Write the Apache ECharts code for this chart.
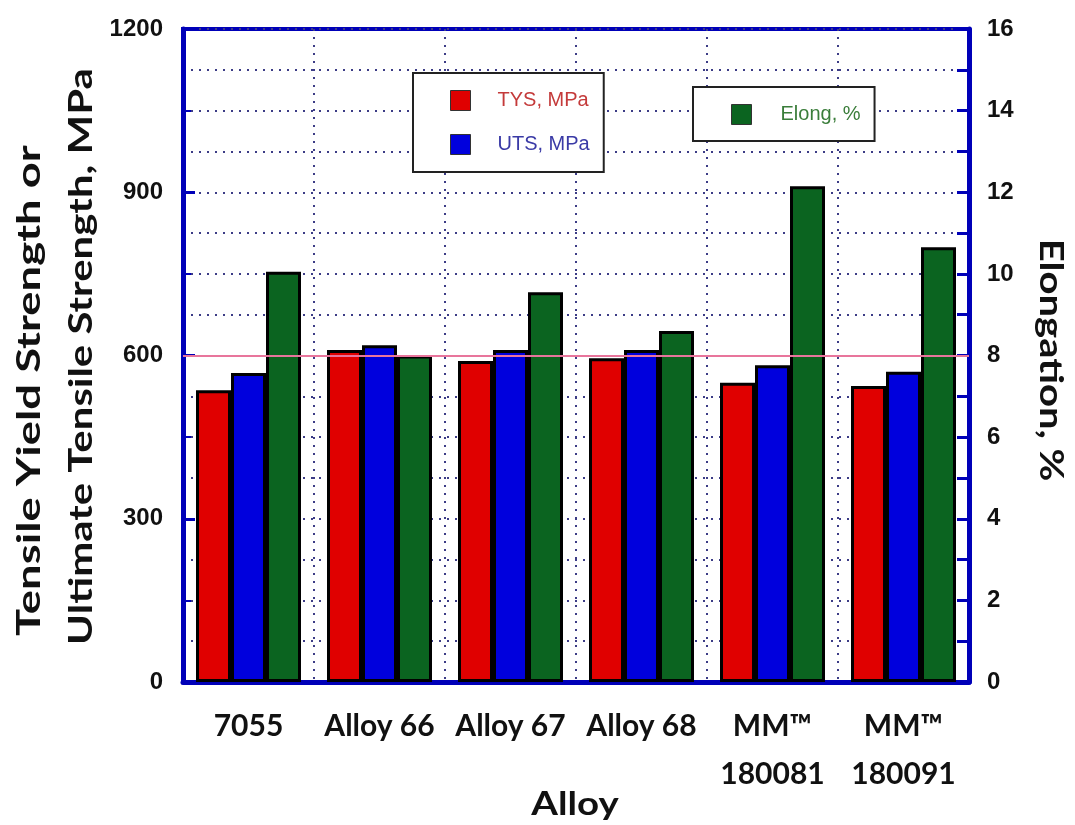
<!DOCTYPE html>
<html>
<head>
<meta charset="utf-8">
<script src="https://cdn.jsdelivr.net/npm/echarts@6/dist/echarts.min.js"></script>
<style>
  html, body { margin: 0; padding: 0; background: #fff; }
  #main { width: 1075px; height: 825px; }
</style>
</head>
<body>
<div id="main"></div>
<script>
// values
var alloys = ['7055', 'Alloy 66', 'Alloy 67', 'Alloy 68', 'MM™\n180081', 'MM™\n180091'];
var tys = [536, 610, 590, 595, 550, 544];
var uts = [568, 619, 610, 610, 582, 570];
var elong = [10.05, 8.0, 9.55, 8.6, 12.15, 10.65];
var strengthMax = 1200;
var elongMax = 16;
var refStrength = 600;

var blue = '#0000b8';
var gridDot = '#3c3c86';
var labelFont = '"Liberation Sans", Arial, sans-serif';
var titleFont = 'Lato, "Open Sans", sans-serif';

var chart = echarts.init(document.getElementById('main'));

function titleText(text, x, y, rot, sx) {
  return {
    type: 'text',
    x: x,
    y: y,
    rotation: rot,
    scaleX: sx,
    style: {
      text: text,
      x: 0,
      y: 0,
      align: rot > 0 ? 'left' : 'center',
      verticalAlign: 'middle',
      fill: '#111',
      font: 'bold 32px ' + titleFont
    }
  };
}

var option = {
  animation: false,
  grid: {
    left: 183,
    right: 106,
    top: 29,
    bottom: 143,
    show: true,
    borderColor: blue,
    borderWidth: 4
  },
  legend: [{
    left: 413,
    top: 73,
    orient: 'vertical',
    icon: 'rect',
    itemWidth: 20,
    itemHeight: 20,
    itemGap: 23,
    padding: [17, 14, 17, 37],
    borderColor: '#222',
    borderWidth: 2,
    backgroundColor: '#fff',
    itemStyle: { borderWidth: 1, borderColor: '#333' },
    textStyle: { fontSize: 20, fontFamily: labelFont, padding: [0, 0, 0, 22] },
    data: [
      { name: 'TYS, MPa', textStyle: { color: '#c43a3a' } },
      { name: 'UTS, MPa', textStyle: { color: '#3a3aa6' } }
    ]
  }, {
    left: 693,
    top: 87,
    orient: 'vertical',
    icon: 'rect',
    itemWidth: 20,
    itemHeight: 20,
    padding: [17, 14, 16, 38],
    borderColor: '#222',
    borderWidth: 2,
    backgroundColor: '#fff',
    itemStyle: { borderWidth: 1, borderColor: '#333' },
    textStyle: { fontSize: 20, fontFamily: labelFont, padding: [0, 0, 0, 24] },
    data: [
      { name: 'Elong, %', textStyle: { color: '#3a7d3a' } }
    ]
  }],
  xAxis: {
    type: 'category',
    data: alloys,
    axisLine: { lineStyle: { color: blue, width: 5 } },
    axisTick: { inside: true, interval: 0, length: 8, lineStyle: { color: blue, width: 3 } },
    axisLabel: {
      interval: 0,
      margin: 20,
      color: '#111',
      fontFamily: titleFont,
      fontWeight: 'bold',
      fontSize: 30,
      lineHeight: 48
    },
    splitLine: { show: true, interval: 0, lineStyle: { color: gridDot, type: [2, 6], width: 2 } }
  },
  yAxis: [{
    type: 'value',
    min: 0,
    max: strengthMax,
    interval: 300,
    axisLine: { show: true, lineStyle: { color: blue, width: 5 } },
    axisTick: { show: true, inside: true, length: 12, lineStyle: { color: blue, width: 3 } },
    minorTick: { show: true, splitNumber: 2, length: 8, lineStyle: { color: blue, width: 2 } },
    axisLabel: {
      margin: 20,
      color: '#111',
      fontFamily: labelFont,
      fontWeight: 'bold',
      fontSize: 24,
      formatter: function (v) { return String(v); }
    },
    splitLine: { show: false }
  }, {
    type: 'value',
    min: 0,
    max: elongMax,
    interval: 1,
    axisLine: { show: true, lineStyle: { color: blue, width: 5 } },
    axisTick: { show: true, inside: true, length: 12, lineStyle: { color: blue, width: 3 } },
    axisLabel: {
      margin: 18,
      color: '#111',
      fontFamily: labelFont,
      fontWeight: 'bold',
      fontSize: 24,
      formatter: function (v) { return v % 2 === 0 ? String(v) : ''; }
    },
    splitLine: { show: true, lineStyle: { color: gridDot, type: [2, 6], width: 2 } }
  }],
  series: [{
    name: 'TYS, MPa',
    type: 'bar',
    yAxisIndex: 0,
    data: tys,
    barWidth: 35,
    barGap: '0%',
    itemStyle: { color: '#e00000', borderColor: '#000', borderWidth: 3 },
    markLine: {
      silent: true,
      symbol: ['none', 'none'],
      label: { show: false },
      lineStyle: { color: '#e8759c', width: 2, type: 'solid' },
      data: [{ yAxis: refStrength }]
    }
  }, {
    name: 'UTS, MPa',
    type: 'bar',
    yAxisIndex: 0,
    data: uts,
    barWidth: 35,
    barGap: '0%',
    itemStyle: { color: '#0000dd', borderColor: '#000', borderWidth: 3 }
  }, {
    name: 'Elong, %',
    type: 'bar',
    yAxisIndex: 1,
    data: elong,
    barWidth: 35,
    barGap: '0%',
    itemStyle: { color: '#0b6420', borderColor: '#000', borderWidth: 3 }
  }],
  graphic: [
    titleText('Tensile Yield Strength or', 30, 636, Math.PI / 2, 1.42),
    titleText('Ultimate Tensile Strength, MPa', 82, 645, Math.PI / 2, 1.31),
    titleText('Elongation, %', 1050, 360, -Math.PI / 2, 1.25),
    titleText('Alloy', 575, 805, 0, 1.2)
  ]
};

chart.setOption(option);
</script>
</body>
</html>
